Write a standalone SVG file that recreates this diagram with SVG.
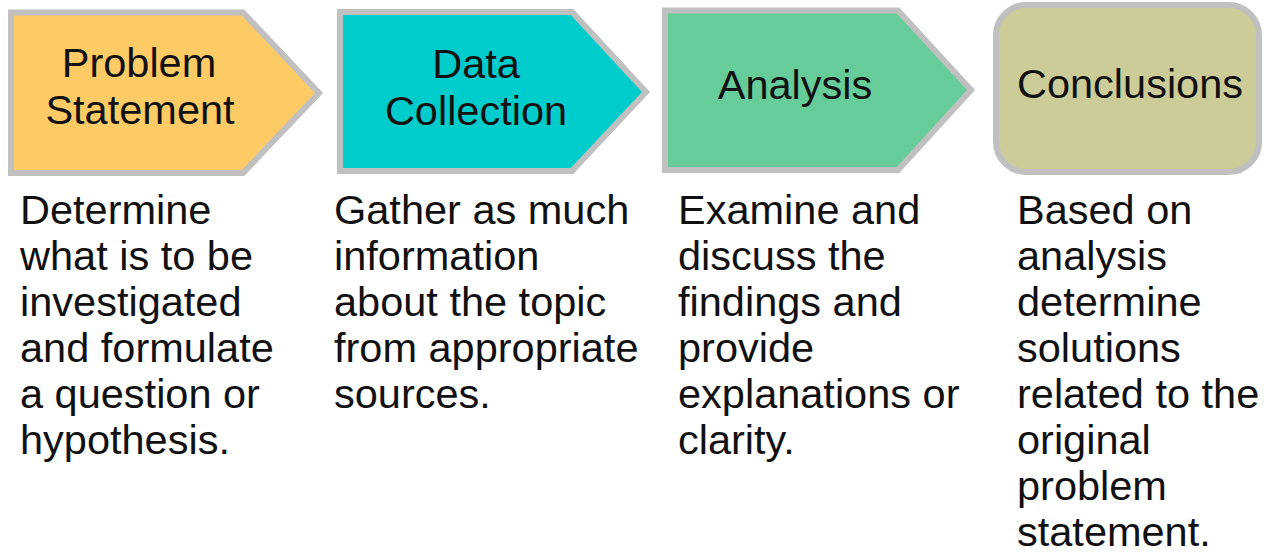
<svg xmlns="http://www.w3.org/2000/svg" width="1264" height="553" viewBox="0 0 1264 553">
<style>
.box{stroke:#c0c0c0;stroke-width:6;stroke-linejoin:miter}
.h{font-family:"Liberation Sans",Arial,sans-serif;font-size:41.5px;fill:#111;text-anchor:middle}
.b{font-family:"Liberation Sans",Arial,sans-serif;font-size:41.5px;fill:#111}
</style>
<rect width="1264" height="553" fill="#fff"/>
<g id="connectors"></g>
<g id="n1">
<polygon class="box" fill="#fdcb66" points="11,12.5 243,12.5 319,93 243,173 11,173"/>
<text class="h" x="139" y="77">Problem</text>
<text class="h" x="140" y="124">Statement</text>
<text class="b"><tspan x="20" y="224">Determine</tspan><tspan x="20" y="270">what is to be</tspan><tspan x="20" y="316">investigated</tspan><tspan x="20" y="362">and formulate</tspan><tspan x="20" y="408">a question or</tspan><tspan x="20" y="454">hypothesis.</tspan></text>
</g>
<g id="n2">
<polygon class="box" fill="#00cccc" points="340,12 572,12 646,92 572,171 340,171"/>
<text class="h" x="476" y="78">Data</text>
<text class="h" x="476" y="125">Collection</text>
<text class="b"><tspan x="334" y="224">Gather as much</tspan><tspan x="334" y="270">information</tspan><tspan x="334" y="316">about the topic</tspan><tspan x="334" y="362">from appropriate</tspan><tspan x="334" y="408">sources.</tspan></text>
</g>
<g id="n3">
<polygon class="box" fill="#66cc99" points="665,10.5 898,10.5 971,90 898,170 665,170"/>
<text class="h" x="795" y="99">Analysis</text>
<text class="b"><tspan x="678" y="224">Examine and</tspan><tspan x="678" y="270">discuss the</tspan><tspan x="678" y="316">findings and</tspan><tspan x="678" y="362">provide</tspan><tspan x="678" y="408">explanations or</tspan><tspan x="678" y="454">clarity.</tspan></text>
</g>
<g id="n4">
<rect class="box" fill="#cccc99" x="996" y="5" width="263" height="167" rx="30" ry="30" stroke="#d0d0d0"/>
<text class="h" x="1130" y="98">Conclusions</text>
<text class="b"><tspan x="1017" y="224">Based on</tspan><tspan x="1017" y="270">analysis</tspan><tspan x="1017" y="316">determine</tspan><tspan x="1017" y="362">solutions</tspan><tspan x="1017" y="408">related to the</tspan><tspan x="1017" y="454">original</tspan><tspan x="1017" y="500">problem</tspan><tspan x="1017" y="546">statement.</tspan></text>
</g>
</svg>
